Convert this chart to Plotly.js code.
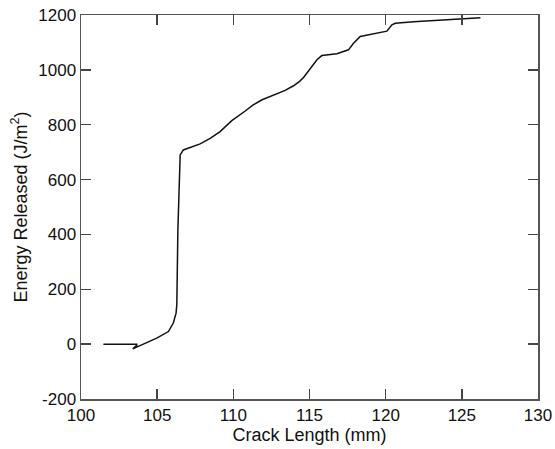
<!DOCTYPE html>
<html>
<head>
<meta charset="utf-8">
<script src="https://cdn.plot.ly/plotly-3.0.1.min.js"></script>
<style>html,body{margin:0;padding:0;background:#fff}#chart{width:555px;height:449px}</style>
</head>
<body>
<div id="chart"></div>
<script>
// Crack length (mm)
const crackLength = [101.47, 103.66, 103.66, 103.40, 103.76, 104.97, 105.74, 106.06, 106.24, 106.29,
  106.36, 106.40, 106.46, 106.51, 106.72, 107.38, 107.82, 108.48, 109.13, 109.46, 109.90, 110.78,
  111.30, 111.89, 112.75, 113.07, 113.40, 113.95, 114.35, 114.61, 115.05, 115.49, 115.81, 116.30,
  116.80, 117.56, 117.89, 118.33, 119.20, 120.08, 120.41, 120.63, 121.83, 123.59, 125.01, 126.22];
// Energy released (J/m^2)
const energyReleased = [0, 0, -4, -17, -8, 22, 46, 77, 113, 144,
  417, 490, 625, 690, 708, 721, 730, 750, 775, 792, 815, 850,
  872, 891, 909, 917, 925, 942, 958, 972, 1006, 1037, 1052, 1056,
  1059, 1073, 1097, 1122, 1131, 1141, 1164, 1170, 1175, 1182, 1186, 1190];

const xTickVals = [100, 105, 110, 115, 120, 125, 130];
const yTickVals = [-200, 0, 200, 400, 600, 800, 1000, 1200];

const fontFam = 'Liberation Sans, Arial, sans-serif';
const axisCommon = {
  showgrid: false, zeroline: false, showline: true, linecolor: '#555', linewidth: 1.5,
  mirror: 'ticks', ticks: 'inside', ticklen: 10, tickwidth: 1.5, tickcolor: '#444',
  tickfont: {family: fontFam, size: 17, color: '#111'}, automargin: false
};

Plotly.newPlot('chart', [{
  x: crackLength, y: energyReleased, type: 'scatter', mode: 'lines',
  line: {color: '#111', width: 1.5}, hoverinfo: 'skip'
}], {
  width: 555, height: 449,
  margin: {l: 81, r: 17, t: 15, b: 50},
  paper_bgcolor: '#fff', plot_bgcolor: '#fff',
  showlegend: false,
  xaxis: Object.assign({}, axisCommon, {
    range: [100, 130], tickvals: xTickVals, ticktext: xTickVals.map(String),
    title: {text: 'Crack Length (mm)', font: {family: fontFam, size: 18, color: '#111'}, standoff: 4}
  }),
  yaxis: Object.assign({}, axisCommon, {
    range: [-200, 1200], tickvals: yTickVals, ticktext: yTickVals.map(String),
    title: {text: 'Energy Released (J/m<sup>2</sup>)', font: {family: fontFam, size: 18, color: '#111'}, standoff: 6}
  })
}, {staticPlot: true});
</script>
</body>
</html>
